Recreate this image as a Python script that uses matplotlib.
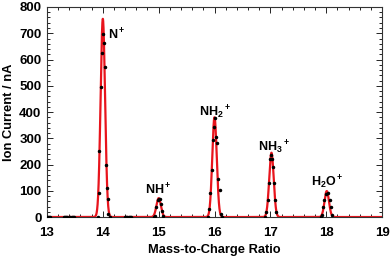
import numpy as np
import matplotlib
matplotlib.use("Agg")
import matplotlib.pyplot as plt
from matplotlib.ticker import MultipleLocator

plt.rcParams['font.family'] = ['Liberation Sans', 'DejaVu Sans']
plt.rcParams['font.weight'] = 'bold'
plt.rcParams['mathtext.fontset'] = 'custom'
plt.rcParams['mathtext.rm'] = 'Liberation Sans:bold'
plt.rcParams['mathtext.bf'] = 'Liberation Sans:bold'
plt.rcParams['mathtext.it'] = 'Liberation Sans:bold'

# measured data points (m/z, ion current nA)
base_x = [13.0, 13.02, 13.04, 13.06, 13.3, 13.32, 13.34, 13.36, 13.42, 13.44, 13.46, 13.48,
          14.4, 14.42, 14.44, 14.46, 14.48, 14.5]
base_y = [2, 1, 2, 1, 1, 2, 1, 2, 1, 2, 1, 2, 2, 1, 2, 1, 2, 1]

n_x = [13.92, 13.925, 13.94, 13.96, 13.98, 14.0, 14.02, 14.04, 14.06, 14.08, 14.09, 14.10, 14.12]
n_y = [0, 93, 251, 494, 623, 696, 664, 573, 200, 109, 68, 12, 0]

nh_x = [14.92, 14.94, 14.96, 14.98, 15.0, 15.02, 15.04, 15.06, 15.08]
nh_y = [0, 5, 39, 65, 70, 67, 50, 22, 3]

nh2_x = [15.88, 15.90, 15.92, 15.95, 15.97, 15.99, 16.0, 16.03, 16.04, 16.07, 16.09, 16.11, 16.13]
nh2_y = [0, 29, 90, 179, 293, 344, 376, 304, 281, 144, 103, 11, 0]

nh3_x = [16.91, 16.93, 16.95, 16.97, 16.99, 17.01, 17.03, 17.05, 17.07, 17.09, 17.11]
nh3_y = [2, 18, 65, 131, 220, 236, 220, 192, 131, 65, 18]

h2o_x = [17.90, 17.92, 17.94, 17.97, 18.0, 18.03, 18.06, 18.08, 18.10]
h2o_y = [0, 8, 37, 65, 88, 90, 65, 37, 8]

# Gaussian fit parameters
fit_center = [14.0, 15.0, 16.0, 17.02, 18.01]
fit_height = [755, 72, 380, 245, 99]
fit_sigma = [0.040, 0.040, 0.040, 0.040, 0.040]

peak_labels = [r'N$^+$', r'NH$^+$', r'NH$_2$$^+$', r'NH$_3$$^+$', r'H$_2$O$^+$']
label_x = [14.09, 15.0, 16.01, 17.07, 18.02]
label_y = [693, 103, 400, 267, 134]
label_ha = ['left', 'center', 'center', 'center', 'center']

fig = plt.figure(figsize=(3.9, 2.59), dpi=100)
ax = fig.add_axes([0.1205, 0.162, 0.859, 0.811])

xf = np.linspace(13, 19, 3000)
yf = np.zeros_like(xf)
for c, h, s in zip(fit_center, fit_height, fit_sigma):
    yf += h * np.exp(-(xf - c) ** 2 / (2 * s ** 2))
ax.plot(xf, yf, color='#e8141c', lw=1.6, zorder=2)

for xs, ys in [(base_x, base_y), (n_x, n_y), (nh_x, nh_y), (nh2_x, nh2_y),
               (nh3_x, nh3_y), (h2o_x, h2o_y)]:
    ax.plot(xs, ys, ls='none', marker='o', ms=1.5, color='black', zorder=3)

for t, x, y, ha in zip(peak_labels, label_x, label_y, label_ha):
    ax.text(x, y, t, ha=ha, va='center', fontsize=9, fontweight='bold')

ax.set_xlim(13, 19)
ax.set_ylim(0, 800)
ax.xaxis.set_major_locator(MultipleLocator(1))
ax.xaxis.set_minor_locator(MultipleLocator(0.2))
ax.yaxis.set_major_locator(MultipleLocator(100))
ax.yaxis.set_minor_locator(MultipleLocator(20))
ax.tick_params(which='both', direction='in', top=True, right=True, labelsize=9.5)
ax.tick_params(axis='x', which='both', pad=7)
ax.tick_params(axis='y', which='both', pad=4)
ax.tick_params(which='major', length=4, width=0.6)
ax.tick_params(which='minor', length=2, width=0.6)
for sp in ax.spines.values():
    sp.set_linewidth(0.8)
    sp.set_color('#333333')

ax.set_xlabel('Mass-to-Charge Ratio', fontsize=9.3, fontweight='bold', labelpad=4)
ax.set_ylabel('Ion Current / nA', fontsize=9.3, fontweight='bold', labelpad=3)

fig.savefig('out.png', dpi=100)
